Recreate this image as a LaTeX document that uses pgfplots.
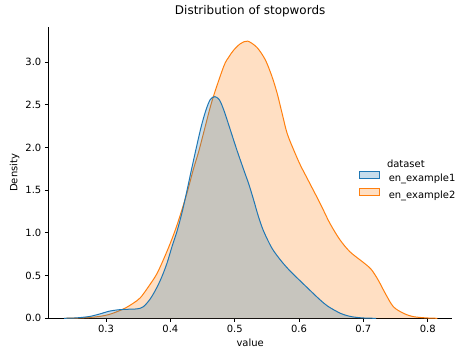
\documentclass[border=0pt]{standalone}
\usepackage{pgfplots}
\pgfplotsset{compat=1.18}
\usepackage{pgfplotstable}
\usepackage{fontspec}
\setmainfont{DejaVu Sans}
\definecolor{c1}{HTML}{1F77B4}
\definecolor{c2}{HTML}{FF7F0E}

\pgfplotstableread{
x y
0.235 0
0.25 0.003
0.262 0.01
0.275 0.022
0.29 0.05
0.305 0.083
0.32 0.10
0.335 0.106
0.348 0.11
0.358 0.135
0.369 0.23
0.379 0.36
0.387 0.49
0.395 0.65
0.403 0.85
0.4104 1.02
0.4182 1.24
0.426 1.50
0.4337 1.77
0.4467 2.205
0.455 2.43
0.462 2.56
0.469 2.595
0.476 2.56
0.483 2.44
0.4933 2.205
0.503 1.98
0.514 1.74
0.522 1.57
0.5295 1.385
0.537 1.19
0.545 1.02
0.558 0.82
0.5725 0.67
0.5866 0.55
0.6016 0.44
0.6126 0.36
0.623 0.285
0.633 0.214
0.645 0.14
0.6644 0.058
0.678 0.025
0.69 0.01
0.705 0.002
0.72 0
}\blue

\pgfplotstableread{
x y
0.235 0
0.255 0.003
0.275 0.01
0.29 0.022
0.305 0.045
0.318 0.08
0.330 0.12
0.342 0.175
0.3533 0.24
0.366 0.37
0.379 0.52
0.39 0.70
0.400 0.88
0.408 1.04
0.4155 1.21
0.426 1.47
0.436 1.75
0.444 1.95
0.452 2.18
0.465 2.55
0.483 2.95
0.491 3.06
0.4985 3.14
0.5089 3.215
0.5202 3.245
0.5348 3.17
0.5477 3.025
0.558 2.83
0.566 2.635
0.5737 2.40
0.5815 2.166
0.5918 1.97
0.602 1.795
0.6126 1.64
0.6327 1.347
0.648 1.112
0.6638 0.917
0.679 0.78
0.695 0.683
0.705 0.624
0.713 0.566
0.723 0.449
0.734 0.293
0.7466 0.136
0.7626 0.058
0.778 0.019
0.799 0.004
0.815 0
}\orange

\begin{document}
\begin{tikzpicture}
\begin{axis}[
  name=ax,
  scale only axis, width=403.7bp, height=291bp,
  xmin=0.2103, xmax=0.8378, ymin=0, ymax=3.407,
  axis x line*=bottom, axis y line*=left,
  axis line style={line width=0.8bp, black},
  xtick={0.3,0.4,0.5,0.6,0.7,0.8},
  ytick={0,0.5,1,1.5,2,2.5,3},
  xticklabels={0.3,0.4,0.5,0.6,0.7,0.8},
  yticklabel style={/pgf/number format/.cd, fixed, fixed zerofill, precision=1},
  /pgf/number format/assume math mode=true,
  tick align=outside, major tick length=3.5bp,
  tick style={line width=0.8bp, black},
  ticklabel style={font=\fontsize{10}{12}\selectfont},
  title={Distribution of stopwords},
  title style={at={(axis description cs:0.5,1.0234)}, anchor=base, font=\fontsize{12}{14}\selectfont},
  xlabel={value},
  xlabel style={at={(axis description cs:0.5,-0.0986)}, anchor=base, font=\fontsize{10}{12}\selectfont},
  ylabel={Density},
  ylabel style={at={(axis description cs:-0.0763,0.5)}, anchor=base, font=\fontsize{10}{12}\selectfont},
  legend style={at={(axis description cs:0.7696,0.5055)}, anchor=north west, draw=none, fill=none,
    inner sep=0pt, outer sep=0pt, row sep=5.8bp, column sep=9bp,
    font=\fontsize{10}{12}\selectfont, cells={anchor=west}, nodes={inner sep=0pt}},
  legend image code/.code={\draw[#1] (0bp,-0.5bp) rectangle (20bp,6.5bp);},
]
\addplot[draw=none, fill=c2, fill opacity=0.25, smooth, forget plot] table[x=x,y=y] {\orange} \closedcycle;
\addplot[c2, line width=1bp, smooth, forget plot] table[x=x,y=y] {\orange};
\addplot[draw=none, fill=c1, fill opacity=0.25, smooth, forget plot] table[x=x,y=y] {\blue} \closedcycle;
\addplot[c1, line width=1bp, smooth, forget plot] table[x=x,y=y] {\blue};
\addlegendimage{draw=c1, fill=c1, fill opacity=0.25, line width=0.8bp}
\addlegendentry{en\_example1}
\addlegendimage{draw=c2, fill=c2, fill opacity=0.25, line width=0.8bp}
\addlegendentry{en\_example2}
\node[font=\fontsize{10}{12}\selectfont, anchor=base] at (axis description cs:0.8857,0.518) {dataset};
\end{axis}
\pgfresetboundingbox
\path[use as bounding box] ([shift={(-48.3bp,-41.7bp)}]ax.south west) rectangle ([shift={(10bp,27.3bp)}]ax.north east);
\end{tikzpicture}
\end{document}
